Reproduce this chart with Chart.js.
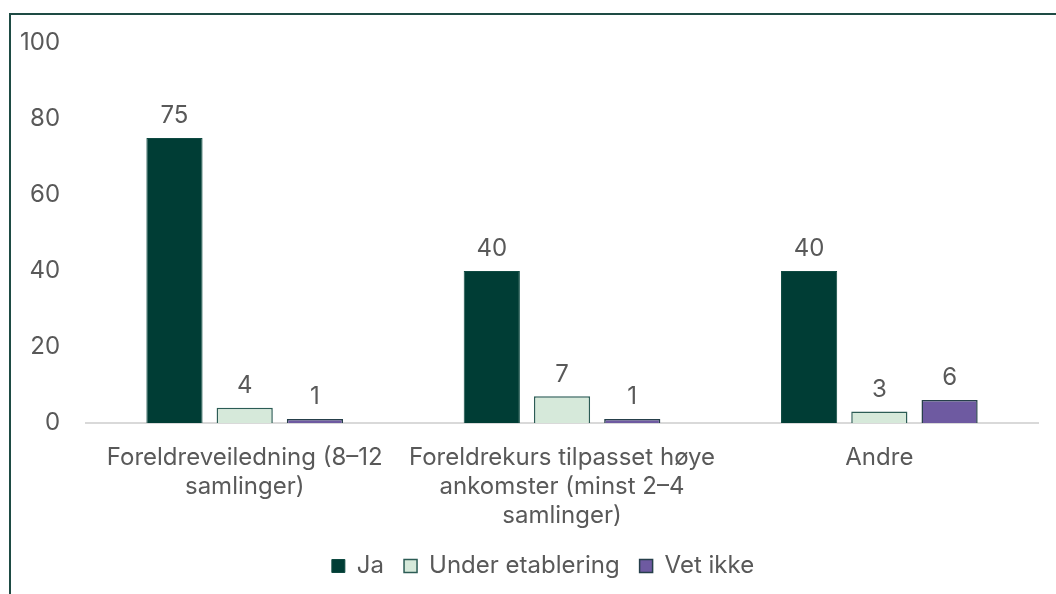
<!DOCTYPE html>
<html>
<head>
<meta charset="utf-8">
<script src="https://cdn.jsdelivr.net/npm/chart.js@4"></script>
<style>
  html, body { margin: 0; padding: 0; background: #ffffff; }
  #wrap { position: relative; width: 1056px; height: 594px; overflow: hidden; }
  #ramme {
    position: absolute; left: 9px; top: 13px; right: -5px; bottom: -5px;
    border-left: 2px solid #1e4b44; border-top: 2px solid #1e4b44;
  }
  #grafikk { position: absolute; left: 0; top: 0; }
</style>
</head>
<body>
<div id="wrap">
  <div id="ramme"></div>
  <canvas id="grafikk" width="1056" height="594"></canvas>
</div>
<script>
// Kategorier (en array per linje i aksetiketten)
const kategorier = [
    ['Foreldreveiledning (8–12', 'samlinger)'],
    ['Foreldrekurs tilpasset høye', 'ankomster (minst 2–4', 'samlinger)'],
    ['Andre']
];

// Verdier per serie
const ja = [75, 40, 40];
const underEtablering = [4, 7, 3];
const vetIkke = [1, 1, 6];

// Y-akse
const yTicks = [0, 20, 40, 60, 80, 100];

const tekstFarge = '#595959';
const font = 'Inter, "Noto Sans", sans-serif';
const tekstStr = 24;

// Flytter forklaringen litt mot høyre
const flyttForklaring = {
    id: 'flyttForklaring',
    afterLayout(chart) {
        if (chart.legend) {
            chart.legend.left += 23;
            chart.legend.right += 23;
        }
    }
};

// Enkel plugin for tall over stolpene
const verdiEtiketter = {
    id: 'verdiEtiketter',
    afterDatasetsDraw(chart) {
        const ctx = chart.ctx;
        ctx.save();
        ctx.fillStyle = tekstFarge;
        ctx.font = tekstStr + 'px ' + font;
        ctx.textAlign = 'center';
        ctx.textBaseline = 'bottom';
        chart.data.datasets.forEach((ds, i) => {
            chart.getDatasetMeta(i).data.forEach((bar, j) => {
                ctx.fillText(ds.data[j], bar.x, bar.y - 10);
            });
        });
        ctx.restore();
    }
};

const ctx = document.getElementById('grafikk').getContext('2d');

new Chart(ctx, {
    type: 'bar',
    data: {
        labels: kategorier,
        datasets: [
            {
                label: 'Ja',
                data: ja,
                backgroundColor: '#003d35',
                borderColor: '#0f4a42',
                borderWidth: 1
            },
            {
                label: 'Under etablering',
                data: underEtablering,
                backgroundColor: '#d6e9da',
                borderColor: '#2c5c55',
                borderWidth: 1.5
            },
            {
                label: 'Vet ikke',
                data: vetIkke,
                backgroundColor: '#6e5aa1',
                borderColor: '#263f4a',
                borderWidth: 1.5
            }
        ]
    },
    options: {
        responsive: false,
        animation: false,
        categoryPercentage: 0.664,
        barPercentage: 0.8,
        layout: {
            padding: { top: 43, right: 18, left: 2, bottom: 6 }
        },
        scales: {
            y: {
                min: 0,
                max: 100,
                afterBuildTicks: (s) => { s.ticks = yTicks.map(v => ({ value: v })); },
                grid: { display: false },
                border: { display: false },
                ticks: {
                    color: tekstFarge,
                    font: { family: font, size: tekstStr },
                    padding: 18
                }
            },
            x: {
                grid: { display: false },
                border: { display: true, color: '#d9d9d9', width: 2 },
                afterFit: (s) => { s.height -= 8; },
                ticks: {
                    color: tekstFarge,
                    font: { family: font, size: tekstStr, lineHeight: 1.21 },
                    padding: 12,
                    maxRotation: 0,
                    autoSkip: false
                }
            }
        },
        plugins: {
            legend: {
                position: 'bottom',
                labels: {
                    color: tekstFarge,
                    font: { family: font, size: tekstStr },
                    boxWidth: 13,
                    boxHeight: 13,
                    padding: 20
                }
            },
            tooltip: { enabled: false }
        }
    },
    plugins: [flyttForklaring, verdiEtiketter]
});
</script>
</body>
</html>
